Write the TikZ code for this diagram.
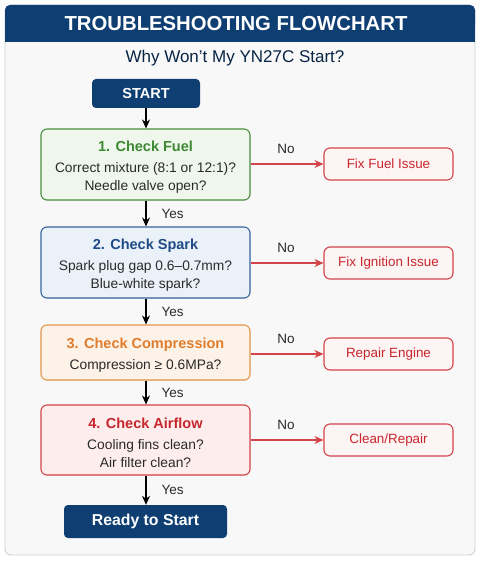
\documentclass[tikz,border=0pt]{standalone}
\usepackage{fontspec}
\setmainfont{Liberation Sans}
\usetikzlibrary{arrows.meta,shadows}
\definecolor{navy}{HTML}{0E3E72}
\definecolor{gborder}{HTML}{4A8E3E}
\definecolor{gfill}{HTML}{EFF6EC}
\definecolor{gtext}{HTML}{3E8A32}
\definecolor{bborder}{HTML}{3565A0}
\definecolor{bfill}{HTML}{EBF1F8}
\definecolor{btext}{HTML}{1F4A86}
\definecolor{oborder}{HTML}{E4974A}
\definecolor{ofill}{HTML}{FDF2E7}
\definecolor{otext}{HTML}{E07D2C}
\definecolor{rborder}{HTML}{D2434A}
\definecolor{rfill}{HTML}{FDEDED}
\definecolor{rtext}{HTML}{C8262E}
\definecolor{rbox}{HTML}{FDF4F4}
\definecolor{bodyfill}{HTML}{F8F8F8}
\definecolor{frame}{HTML}{C9CDD2}
\definecolor{txt}{HTML}{2A2A2A}
\tikzset{
  navybox/.style={fill=navy, rounded corners=4pt, text=white, font=\fontsize{14.5}{17}\selectfont\bfseries, anchor=center, inner sep=0pt},
  checkbox/.style={draw=#1border, fill=#1fill, line width=1.1pt, rounded corners=6pt, minimum width=209pt, inner sep=0pt, drop shadow={shadow xshift=0.6pt, shadow yshift=-0.8pt, opacity=0.12}},
  checktext/.style={align=center, text=txt, inner sep=0pt, yshift=-2.5pt, font=\fontsize{13.8}{17.5}\selectfont},
  fixbox/.style={draw=rborder, fill=rbox, line width=1.1pt, rounded corners=6pt, minimum width=129pt, minimum height=32pt, text=rtext, inner sep=0pt, font=\fontsize{13.4}{15}\selectfont},
  yesarrow/.style={-{Stealth[length=9pt,width=8pt]}, line width=1.3pt, black},
  noarrow/.style={-{Stealth[length=9pt,width=8pt]}, line width=1.3pt, rborder},
  lbl/.style={font=\fontsize{13.5}{15}\selectfont, text=txt, inner sep=0pt},
}
\newcommand{\boxhead}[2]{{\fontsize{14.5}{17}\selectfont\bfseries\color{#1}#2}}
\begin{document}
\begin{tikzpicture}[x=1pt,y=-1pt]
\useasboundingbox (0,0) rectangle (480,561);
% frame
\draw[frame, fill=bodyfill, line width=0.8pt, rounded corners=6pt] (5,5) rectangle (475,555);
\fill[navy, rounded corners=5pt] (5,5) rectangle (475,30);
\fill[navy] (5,20) rectangle (475,42);
\node[text=white, font=\fontsize{20.3}{22}\selectfont\bfseries] (title) at (236,24) {TROUBLESHOOTING FLOWCHART};
\node[text=navy!60!black, font=\fontsize{17}{18}\selectfont] (sub) at (235,58) {Why Won’t My YN27C Start?};
% start
\node[navybox, minimum width=108pt, minimum height=29pt] (start) at (146,93.5) {START};
% checks
\node[checkbox=g, minimum height=71pt] (c1) at (145.5,164.5) {};
\node[checktext] (c1t) at (c1.center) {\boxhead{gtext}{1. Check Fuel}\\[4pt]Correct mixture (8:1 or 12:1)?\\Needle valve open?};
\node[checkbox=b, minimum height=71pt] (c2) at (145.5,262.5) {};
\node[checktext] (c2t) at (c2.center) {\boxhead{btext}{2. Check Spark}\\[4pt]Spark plug gap 0.6–0.7mm?\\Blue-white spark?};
\node[checkbox=o, minimum height=55pt] (c3) at (145.5,352.5) {};
\node[checktext] (c3t) at (c3.center) {\boxhead{otext}{3. Check Compression}\\[4pt]Compression ≥ 0.6MPa?};
\node[checkbox=r, minimum height=70pt] (c4) at (145.5,440) {};
\node[checktext] (c4t) at (c4.center) {\boxhead{rtext}{4. Check Airflow}\\[4pt]Cooling fins clean?\\Air filter clean?};
\node[navybox, minimum width=163pt, minimum height=33pt, font=\fontsize{15.8}{17}\selectfont\bfseries] (ready) at (145.5,521.5) {Ready to Start};
% fix boxes
\node[fixbox] (f1) at (388.5,164) {Fix Fuel Issue};
\node[fixbox] (f2) at (388.5,263) {Fix Ignition Issue};
\node[fixbox] (f3) at (388.5,354) {Repair Engine};
\node[fixbox] (f4) at (388.5,440) {Clean/Repair};
% yes arrows
\draw[yesarrow] (start.south) -- (start.south |- c1.north);
\draw[yesarrow] (c1.south -| start.south) -- (start.south |- c2.north) node[lbl, midway, right=15pt] {Yes};
\draw[yesarrow] (c2.south -| start.south) -- (start.south |- c3.north) node[lbl, midway, right=15pt] {Yes};
\draw[yesarrow] (c3.south -| start.south) -- (start.south |- c4.north) node[lbl, midway, right=15pt] {Yes};
\draw[yesarrow] (c4.south -| start.south) -- (start.south |- ready.north) node[lbl, midway, right=15pt] {Yes};
% no arrows
\draw[noarrow] (c1.east |- f1.west) -- (f1.west) node[lbl, midway, above=10pt, xshift=-1pt] {No};
\draw[noarrow] (c2.east |- f2.west) -- (f2.west) node[lbl, midway, above=10pt, xshift=-1pt] {No};
\draw[noarrow] (c3.east |- f3.west) -- (f3.west) node[lbl, midway, above=10pt, xshift=-1pt] {No};
\draw[noarrow] (c4.east |- f4.west) -- (f4.west) node[lbl, midway, above=10pt, xshift=-1pt] {No};
\end{tikzpicture}
\end{document}
